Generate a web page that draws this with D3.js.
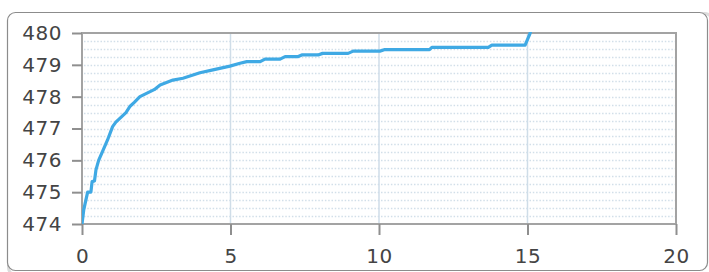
<!DOCTYPE html>
<html>
<head>
<meta charset="utf-8">
<script src="https://cdn.jsdelivr.net/npm/d3@7"></script>
<style>
  body { margin: 0; background: #fff; }
  svg { display: block; }
  .tick text { font-family: "DejaVu Sans", Verdana, sans-serif; font-size: 20px; fill: #444; letter-spacing: 0.5px; }
</style>
</head>
<body>
<svg width="709" height="272"></svg>
<script>
var svg = d3.select("svg");

// data
var times = [0, 0.06, 0.13, 0.19, 0.3, 0.34, 0.42, 0.47, 0.56, 0.7, 0.86, 1.03, 1.14, 1.48, 1.62, 1.76, 1.95,
  2.43, 2.63, 3.06, 3.4, 3.97, 4.41, 4.98, 5.32, 5.55, 6.0, 6.16, 6.67, 6.84, 7.28, 7.4, 7.95, 8.1, 8.96,
  9.13, 10.03, 10.2, 11.7, 11.78, 13.68, 13.8, 14.92, 15.08, 15.2];
var values = [474, 474.45, 474.75, 475.0, 475.0, 475.33, 475.35, 475.7, 476.0, 476.3, 476.64, 477.06, 477.2, 477.5, 477.7, 477.82, 478.0,
  478.22, 478.37, 478.52, 478.58, 478.75, 478.84, 478.96, 479.05, 479.1, 479.1, 479.18, 479.18, 479.26, 479.26, 479.31, 479.31, 479.36, 479.36,
  479.43, 479.43, 479.48, 479.48, 479.55, 479.55, 479.62, 479.62, 479.97, 480.4];
var xTicks = [0, 5, 10, 15, 20];
var yTicks = [474, 475, 476, 477, 478, 479, 480];

var plotLeft = 82, plotRight = 676, plotTop = 33, plotBottom = 224;

var x = d3.scaleLinear().domain([0, 20]).range([plotLeft, plotRight]);
var y = d3.scaleLinear().domain([474, 480]).range([plotBottom, plotTop]);

// outer rounded box
svg.append("rect")
    .attr("x", 8.5).attr("y", 13.5)
    .attr("width", 704).attr("height", 262)
    .attr("rx", 8)
    .attr("fill", "none")
    .attr("stroke", "#dcdcdc")
    .attr("stroke-width", 3);
svg.append("rect")
    .attr("x", 7.5).attr("y", 12.5)
    .attr("width", 700).attr("height", 258)
    .attr("rx", 8)
    .attr("fill", "#fff")
    .attr("stroke", "#8c8c8c")
    .attr("stroke-width", 1.2);

// dotted horizontal grid, every quarter unit
var minor = d3.range(474.25, 480, 0.25);
svg.append("g").selectAll("line")
    .data(minor)
    .join("line")
    .attr("x1", plotLeft + 2).attr("x2", plotRight - 1)
    .attr("y1", d => Math.round(y(d)) + 0.5).attr("y2", d => Math.round(y(d)) + 0.5)
    .attr("stroke", "#d2dfe9")
    .attr("stroke-width", 1.3)
    .attr("stroke-dasharray", "1.5,1.8");

// solid vertical grid
svg.append("g").selectAll("line")
    .data(xTicks.slice(1, -1))
    .join("line")
    .attr("x1", d => x(d)).attr("x2", d => x(d))
    .attr("y1", plotTop).attr("y2", plotBottom)
    .attr("stroke", "#cfdde8")
    .attr("stroke-width", 1.5);

// frame
svg.append("rect")
    .attr("x", plotLeft).attr("y", plotTop)
    .attr("width", plotRight - plotLeft).attr("height", plotBottom - plotTop)
    .attr("fill", "none")
    .attr("stroke", "#a3a3a3")
    .attr("stroke-width", 2);

// line
svg.append("clipPath").attr("id", "clip")
    .append("rect")
    .attr("x", plotLeft).attr("y", plotTop - 1)
    .attr("width", plotRight - plotLeft).attr("height", plotBottom - plotTop + 2);

var pts = times.map((t, i) => [t, values[i]]);
svg.append("path")
    .datum(pts)
    .attr("clip-path", "url(#clip)")
    .attr("fill", "none")
    .attr("stroke", "#3fa9e4")
    .attr("stroke-width", 3.2)
    .attr("stroke-linejoin", "round")
    .attr("d", d3.line().x(d => x(d[0])).y(d => y(d[1])));

// axes
var yAxis = svg.append("g")
    .attr("transform", "translate(" + plotLeft + ",0)")
    .call(d3.axisLeft(y).tickValues(yTicks).tickSize(10).tickPadding(10).tickFormat(d3.format("d")));
var xAxis = svg.append("g")
    .attr("transform", "translate(0," + plotBottom + ")")
    .call(d3.axisBottom(x).tickValues(xTicks).tickSize(11).tickPadding(14).tickFormat(d3.format("d")));

[yAxis, xAxis].forEach(function (g) {
  g.select(".domain").remove();
  g.selectAll(".tick line").attr("stroke", "#8f8f8f").attr("stroke-width", 2);
});
</script>
</body>
</html>
